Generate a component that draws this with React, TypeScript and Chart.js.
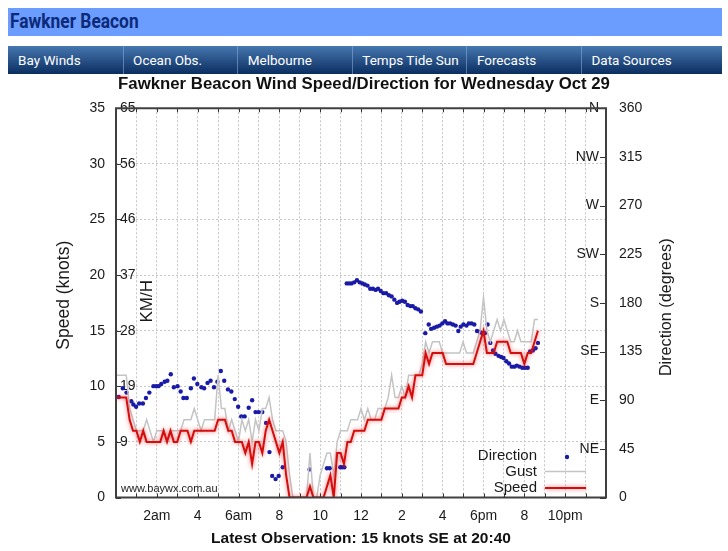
import React, { useEffect, useRef } from "react";
import { Chart, registerables } from "chart.js";

Chart.register(...registerables);

const FONT = "'Liberation Sans', Arial, Helvetica, sans-serif";

const stationName = "Fawkner Beacon";
const dayName = "Wednesday Oct 29";
const navItems = ["Bay Winds", "Ocean Obs.", "Melbourne", "Temps Tide Sun", "Forecasts", "Data Sources"];

// Wind observations every 10 minutes from midnight (knots)
const obsStart = "00:00";
const obsStepMinutes = 10;
const speedKnots = [
  9, 9, 9, 9, 7, 6, 6, 5, 6, 5,
  5, 5, 5, 5, 6, 5, 6, 5, 5, 6,
  6, 6, 5, 6, 6, 6, 6, 6, 6, 6,
  7, 7, 7, 6, 6, 5, 5, 5, 4, 5,
  3, 5, 5, 4, 6, 7, 6, 5, 4, 5,
  2, 0, 0, 0, 0, 0, 0, 1, 0, 0,
  0, 0, 1, 2, 0, 4, 4, 3, 5, 5,
  6, 6, 6, 6, 7, 7, 7, 7, 7, 8,
  8, 8, 8, 8, 9, 9, 10, 9, 11, 11,
  11, 13, 12, 13, 13, 13, 13, 12, 12, 12,
  12, 12, 12, 12, 12, 12, 13, 14, 15, 13,
  13, 13, 14, 14, 14, 14, 13, 13, 13, 13,
  12, 13, 13, 14, 15,
];
const gustKnots = [
  11, 11, 11, 11, 8, 7, 6, 6, 6, 7,
  6, 5, 6, 6, 6, 5, 6, 6, 6, 6,
  7, 7, 7, 8, 7, 6, 7, 7, 7, 7,
  11, 8, 8, 6, 7, 6, 5, 7, 6, 7,
  5, 7, 6, 8, 8, 9, 7, 6, 6, 6,
  5, 2, 0, 0, 0, 0, 0, 4, 0, 0,
  2, 3, 4, 4, 2, 5, 6, 6, 6, 7,
  7, 7, 8, 7, 8, 7, 7, 8, 8, 8,
  9, 11, 9, 9, 10, 9, 11, 11, 11, 11,
  12, 14, 13, 14, 14, 14, 13, 13, 13, 13,
  13, 13, 14, 13, 13, 13, 14, 15, 18, 15,
  14, 15, 16, 15, 16, 15, 14, 14, 15, 14,
  14, 14, 14, 16, 16,
];

// Wind direction readings (degrees true)
const dirTimes = [
  "0:08", "0:20", "0:31", "0:45", "0:51", "0:59", "1:08", "1:19", "1:28", "1:38",
  "1:50", "1:58", "2:05", "2:13", "2:23", "2:31", "2:41", "2:50", "3:01", "3:10",
  "3:18", "3:28", "3:40", "3:49", "3:59", "4:11", "4:19", "4:29", "4:38", "4:48",
  "4:58", "5:08", "5:18", "5:29", "5:39", "5:49", "5:59", "6:08", "6:18", "6:30",
  "6:40", "6:50", "6:59", "7:10", "7:21", "7:31", "7:39", "7:49", "7:58", "8:10",
  "9:29", "10:20", "10:28", "10:59", "11:05", "11:11",
  "11:18", "11:25", "11:32", "11:40", "11:48", "11:56", "12:04", "12:11", "12:19", "12:27",
  "12:35", "12:43", "12:50", "12:58", "13:06", "13:14", "13:22", "13:30", "13:38", "13:46",
  "13:53", "14:01", "14:09", "14:17", "14:25", "14:32", "14:40", "14:48", "14:56",
  "15:09", "15:19", "15:26", "15:35", "15:43", "15:51", "15:59", "16:07", "16:14", "16:22",
  "16:30", "16:38", "16:46", "16:53", "17:01", "17:10", "17:17", "17:25", "17:33", "17:41",
  "17:49", "17:56", "18:04", "18:12", "18:20", "18:28", "18:35", "18:44", "18:52", "18:59",
  "19:07", "19:15", "19:23", "19:31", "19:38", "19:46", "19:54", "20:02", "20:10", "20:17",
  "20:25", "20:33", "20:40",
];
const dirDegrees = [
  93, 101, 97, 89, 86, 84, 87, 87, 92, 97,
  103, 103, 103, 105, 107, 108, 114, 102, 103, 98,
  92, 92, 101, 110, 105, 102, 101, 106, 108, 102,
  107, 117, 108, 100, 98, 91, 84, 75, 75, 83,
  90, 79, 79, 79, 69, 42, 20, 17, 20, 28,
  26, 27, 27, 28, 28, 28,
  198, 198, 198, 199, 201, 199, 198, 197, 196, 193,
  193, 192, 193, 191, 189, 189, 187, 186, 183, 180,
  181, 182, 181, 178, 177, 177, 175, 174, 172,
  152, 160, 156, 157, 158, 159, 161, 163, 161, 161,
  160, 159, 154, 158, 160, 159, 161, 161, 160, 154,
  153, 152, 152, 160, 143, 136, 133, 131, 130, 129,
  126, 124, 121, 121, 122, 121, 120, 120, 120, 135,
  136, 138, 143,
];

// Axis tick text
const hourTicks = [2, 4, 6, 8, 10, 12, 14, 16, 18, 20, 22];
const hourTickLabels = ["2am", "4", "6am", "8", "10", "12", "2", "4", "6pm", "8", "10pm"];
const compassPoints = ["N", "NE", "E", "SE", "S", "SW", "W", "NW"];
const compassTickLabels = ["", "NE", "E", "SE", "S", "SW", "W", "NW", "N"];
const KNOT_TO_KMH = 1.852;

const toHours = (hhmm: string) => {
  const [h, m] = hhmm.split(":").map(Number);
  return h + m / 60;
};
const obsHour = (i: number) => toHours(obsStart) + (i * obsStepMinutes) / 60;
const clock = (hours: number) => {
  const mins = Math.round(hours * 60);
  return `${Math.floor(mins / 60)}:${String(mins % 60).padStart(2, "0")}`;
};
const compassName = (deg: number) => compassPoints[Math.round(deg / 45) % 8];

const lastIdx = speedKnots.length - 1;
const latestText = `Latest Observation: ${speedKnots[lastIdx]} knots ${compassName(
  dirDegrees[dirDegrees.length - 1]
)} at ${clock(obsHour(lastIdx))}`;

const GRID = "#c6c6c6";
const TEXT = "#1a1a1a";
const RED_GLOW = "rgba(255,40,40,0.7)";

// Gnuplot-style frame, inward ticks, in-plot legend and side labels
const plotDecor = {
  id: "plotDecor",
  beforeDatasetDraw(chart: any, args: any) {
    if (chart.data.datasets[args.index].label === "Speed") {
      const ctx = chart.ctx;
      ctx.save();
      ctx.shadowColor = RED_GLOW;
      ctx.shadowBlur = 4;
    }
  },
  afterDatasetDraw(chart: any, args: any) {
    if (chart.data.datasets[args.index].label === "Speed") chart.ctx.restore();
  },
  afterDraw(chart: any) {
    const { ctx, chartArea: a, scales } = chart;
    ctx.save();

    // inward tick marks
    ctx.strokeStyle = "#333";
    ctx.lineWidth = 1;
    ctx.beginPath();
    scales.x.ticks.forEach((t: any) => {
      const px = Math.round(scales.x.getPixelForValue(t.value)) + 0.5;
      ctx.moveTo(px, a.bottom);
      ctx.lineTo(px, a.bottom - 4);
      ctx.moveTo(px, a.top);
      ctx.lineTo(px, a.top + 4);
    });
    scales.y.ticks.forEach((t: any) => {
      const py = Math.round(scales.y.getPixelForValue(t.value)) + 0.5;
      ctx.moveTo(a.left, py);
      ctx.lineTo(a.left + 5, py);
    });
    scales.dir.ticks.forEach((t: any) => {
      const py = Math.round(scales.dir.getPixelForValue(t.value)) + 0.5;
      ctx.moveTo(a.right, py);
      ctx.lineTo(a.right - 6, py);
    });
    ctx.stroke();

    // frame
    ctx.strokeStyle = "#404040";
    ctx.lineWidth = 2;
    ctx.strokeRect(a.left, a.top, a.right - a.left, a.bottom - a.top);

    // legend
    const rows = [
      { label: "Direction", dy: -41.5 },
      { label: "Gust", dy: -26 },
      { label: "Speed", dy: -9.5 },
    ];
    ctx.font = `15px ${FONT}`;
    ctx.textAlign = "right";
    ctx.textBaseline = "middle";
    rows.forEach((r) => {
      const ds = chart.data.datasets.find((d: any) => d.label === r.label);
      const y = a.bottom + r.dy;
      ctx.fillStyle = TEXT;
      ctx.fillText(r.label, a.right - 69, y);
      if (r.label === "Direction") {
        ctx.fillStyle = ds.pointBackgroundColor;
        ctx.beginPath();
        ctx.arc(a.right - 39, y + 1, ds.pointRadius, 0, Math.PI * 2);
        ctx.fill();
      } else {
        ctx.save();
        if (r.label === "Speed") {
          ctx.shadowColor = RED_GLOW;
          ctx.shadowBlur = 4;
        }
        ctx.strokeStyle = ds.borderColor;
        ctx.lineWidth = ds.borderWidth;
        ctx.beginPath();
        ctx.moveTo(a.right - 61, y);
        ctx.lineTo(a.right - 20, y);
        ctx.stroke();
        ctx.restore();
      }
    });

    // site mark
    ctx.font = `11px ${FONT}`;
    ctx.fillStyle = "#222";
    ctx.textAlign = "left";
    ctx.fillText("www.baywx.com.au", a.left + 5, a.bottom - 8.5);

    // rotated labels
    const vText = (text: string, x: number, y: number, size: number) => {
      ctx.save();
      ctx.translate(x, y);
      ctx.rotate(-Math.PI / 2);
      ctx.font = `${size}px ${FONT}`;
      ctx.fillStyle = TEXT;
      ctx.textAlign = "center";
      ctx.textBaseline = "middle";
      ctx.fillText(text, 0, 0);
      ctx.restore();
    };
    vText("KM/H", a.left + 31, a.top + 193, 17);
    vText("Speed (knots)", 64.5, a.top + 187, 17.5);
    vText("Direction (degrees)", a.right + 61, a.top + 199, 16.2);

    ctx.restore();
  },
};

function WindChart() {
  const ref = useRef<HTMLCanvasElement | null>(null);

  useEffect(() => {
    if (!ref.current) return;
    const tickFont = { family: FONT, size: 14 };
    const chart = new Chart(ref.current, {
      type: "line",
      data: {
        datasets: [
          {
            label: "Speed",
            data: speedKnots.map((v, i) => ({ x: obsHour(i), y: v })),
            yAxisID: "y",
            borderColor: "#d20f0f",
            borderWidth: 2,
            pointRadius: 0,
            tension: 0,
          },
          {
            label: "Gust",
            data: gustKnots.map((v, i) => ({ x: obsHour(i), y: v })),
            yAxisID: "y",
            borderColor: "#c4c4c4",
            borderWidth: 1.5,
            pointRadius: 0,
            tension: 0,
          },
          {
            label: "Direction",
            data: dirTimes.map((t, i) => ({ x: toHours(t), y: dirDegrees[i] })),
            yAxisID: "dir",
            showLine: false,
            pointRadius: 2.2,
            pointBackgroundColor: "#1a1aa8",
            pointBorderWidth: 0,
            borderColor: "#1a1aa8",
          },
        ],
      },
      options: {
        responsive: false,
        animation: false,
        events: [],
        layout: { padding: 0 },
        plugins: {
          legend: { display: false },
          tooltip: { enabled: false },
          title: {
            display: true,
            text: `${stationName} Wind Speed/Direction for ${dayName}`,
            color: "#111",
            font: { family: FONT, size: 16.8, weight: "bold" },
            padding: { top: 0.6, bottom: 13.5 },
          },
        },
        scales: {
          x: {
            type: "linear",
            position: "bottom",
            min: 0,
            max: 24,
            afterFit: (s: any) => {
              s.height = 50.5;
            },
            ticks: {
              stepSize: 1,
              autoSkip: false,
              maxRotation: 0,
              padding: 10,
              color: TEXT,
              font: tickFont,
              callback: (v: any) => {
                const k = hourTicks.indexOf(Number(v));
                return k >= 0 ? hourTickLabels[k] : "";
              },
            },
            grid: { color: GRID, drawTicks: false, lineWidth: 1 },
            border: { display: false, dash: [2, 2] },
            title: {
              display: true,
              text: latestText,
              color: "#111",
              font: { family: FONT, size: 15.5, weight: "bold" },
              padding: { top: 0, bottom: 0 },
            },
          },
          kmh: {
            type: "linear",
            position: "left",
            weight: 0,
            min: 0,
            max: 35,
            afterFit: (s: any) => {
              s.width = 0;
            },
            ticks: {
              stepSize: 5,
              mirror: true,
              padding: 4,
              color: TEXT,
              font: tickFont,
              callback: (v: any) => (Number(v) === 0 ? "" : String(Math.round(Number(v) * KNOT_TO_KMH))),
            },
            grid: { display: false, drawTicks: false },
            border: { display: false },
          },
          y: {
            type: "linear",
            position: "left",
            weight: 1,
            min: 0,
            max: 35,
            afterFit: (s: any) => {
              s.width = 116;
            },
            ticks: { stepSize: 5, padding: 11, color: TEXT, font: tickFont },
            grid: { color: GRID, drawTicks: false, lineWidth: 1 },
            border: { display: false, dash: [2, 2] },
          },
          compass: {
            type: "linear",
            position: "right",
            weight: 0,
            min: 0,
            max: 360,
            afterFit: (s: any) => {
              s.width = 0;
            },
            ticks: {
              stepSize: 45,
              mirror: true,
              padding: -7,
              color: TEXT,
              font: tickFont,
              callback: (v: any) => compassTickLabels[Math.round(Number(v) / 45)] ?? "",
            },
            grid: { display: false, drawTicks: false },
            border: { display: false },
          },
          dir: {
            type: "linear",
            position: "right",
            weight: 1,
            min: 0,
            max: 360,
            afterFit: (s: any) => {
              s.width = 122;
            },
            ticks: { stepSize: 45, padding: 13, color: TEXT, font: tickFont },
            grid: { display: false, drawTicks: false },
            border: { display: false },
          },
        },
      },
      plugins: [plotDecor],
    } as any);
    return () => chart.destroy();
  }, []);

  return (
    <canvas
      ref={ref}
      width={728}
      height={474}
      style={{ position: "absolute", left: 0, top: 74, width: 728, height: 474 }}
    />
  );
}

export default function App() {
  return (
    <div
      style={{
        position: "absolute",
        left: 0,
        top: 0,
        width: 728,
        height: 551,
        overflow: "hidden",
        background: "#fff",
      }}
    >
      <div
        style={{
          position: "absolute",
          left: 8,
          top: 8,
          width: 714,
          height: 28,
          background: "#6b9cff",
        }}
      >
        <span
          style={{
            position: "absolute",
            left: 2,
            top: 0,
            fontFamily: "Roboto, 'Noto Sans', sans-serif",
            fontWeight: "bold",
            fontSize: 19.5,
            lineHeight: "28px",
            color: "#0c2a78",
            transform: "scaleX(0.89)",
            transformOrigin: "left center",
            whiteSpace: "nowrap",
          }}
        >
          {stationName}
        </span>
      </div>
      <div
        style={{
          position: "absolute",
          left: 8,
          top: 46,
          width: 714,
          height: 28,
          background: "linear-gradient(#4677b0, #0b2e60)",
        }}
      >
        {navItems.map((item, i) => (
          <div
            key={item}
            style={{
              position: "absolute",
              left: i * 114.6,
              top: 0,
              width: i === navItems.length - 1 ? 714 - i * 114.6 : 114.6,
              height: 28,
              boxSizing: "border-box",
              borderLeft: i === 0 ? "none" : "1px solid rgba(140,175,220,0.55)",
              paddingLeft: i === 0 ? 10 : 9.5,
              fontFamily: "Roboto, 'Noto Sans', sans-serif",
              fontSize: 13.5,
              lineHeight: "28px",
              color: "#fff",
              whiteSpace: "nowrap",
            }}
          >
            {item}
          </div>
        ))}
      </div>
      <WindChart />
    </div>
  );
}
